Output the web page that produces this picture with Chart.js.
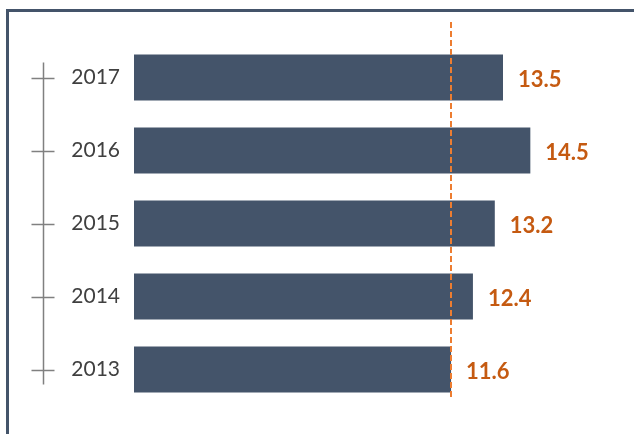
<!DOCTYPE html>
<html>
<head>
<meta charset="utf-8">
<script src="https://cdn.jsdelivr.net/npm/chart.js@4/dist/chart.umd.min.js"></script>
<style>
  html, body { margin: 0; padding: 0; background: #fff; }
  #wrap { position: relative; width: 634px; height: 434px; overflow: hidden; }
  #frame {
    position: absolute; left: 6px; top: 9px; width: 700px; height: 500px;
    border-top: 3px solid #44546a; border-left: 3px solid #44546a;
  }
  canvas { position: absolute; left: 0; top: 0; }
</style>
</head>
<body>
<div id="wrap">
  <div id="frame"></div>
  <canvas id="chart" width="634" height="434"></canvas>
</div>
<script>
const years = ["2017", "2016", "2015", "2014", "2013"];
const values = [13.5, 14.5, 13.2, 12.4, 11.6];
const refValue = 11.6;

const barColor = "#44546a";
const labelColor = "#c55a11";
const refColor = "#ed7d31";

// axis line with cross ticks, left of the year labels
const crossAxis = {
  id: "crossAxis",
  afterDraw(chart) {
    const ys = chart.scales.y;
    const ctx = chart.ctx;
    const x = ys.left + 33.5;
    const first = ys.getPixelForValue(0);
    const last = ys.getPixelForValue(years.length - 1);
    ctx.save();
    ctx.strokeStyle = "#808080";
    ctx.lineWidth = 1.5;
    ctx.beginPath();
    ctx.moveTo(x, first - 15);
    ctx.lineTo(x, last + 15);
    years.forEach((y, i) => {
      const py = Math.round(ys.getPixelForValue(i)) + 0.5;
      ctx.moveTo(x - 12, py);
      ctx.lineTo(x + 11, py);
    });
    ctx.stroke();
    ctx.restore();
  },
};

// dashed reference line + value labels
const overlay = {
  id: "overlay",
  afterDatasetsDraw(chart) {
    const ctx = chart.ctx;
    const xs = chart.scales.x;
    const area = chart.chartArea;
    const rx = Math.round(xs.getPixelForValue(refValue));
    ctx.save();
    ctx.strokeStyle = refColor;
    ctx.lineWidth = 2;
    ctx.setLineDash([6, 3]);
    ctx.beginPath();
    ctx.moveTo(rx, area.top - 19);
    ctx.lineTo(rx, area.bottom - 9);
    ctx.stroke();
    ctx.setLineDash([]);

    ctx.fillStyle = labelColor;
    ctx.font = "bold 22px Lato";
    ctx.textBaseline = "middle";
    ctx.textAlign = "left";
    chart.getDatasetMeta(0).data.forEach((bar, i) => {
      ctx.fillText(values[i].toFixed(1), bar.x + 15, bar.y + 2);
    });
    ctx.restore();
  },
};

new Chart(document.getElementById("chart"), {
  type: "bar",
  data: {
    labels: years,
    datasets: [
      {
        data: values,
        backgroundColor: barColor,
        borderWidth: 0,
        barPercentage: 0.63,
        categoryPercentage: 1,
      },
    ],
  },
  options: {
    indexAxis: "y",
    responsive: false,
    animation: false,
    layout: { padding: { left: 10, right: 8, top: 41, bottom: 28 } },
    plugins: { legend: { display: false }, tooltip: { enabled: false } },
    scales: {
      x: { display: false, min: 0, max: 18 },
      y: {
        grid: { display: false },
        border: { display: false },
        ticks: { color: "#404040", padding: 6, font: { family: "Lato", size: 21 } },
        afterFit(scale) {
          scale.width = 124;
        },
      },
    },
  },
  plugins: [crossAxis, overlay],
});
</script>
</body>
</html>
